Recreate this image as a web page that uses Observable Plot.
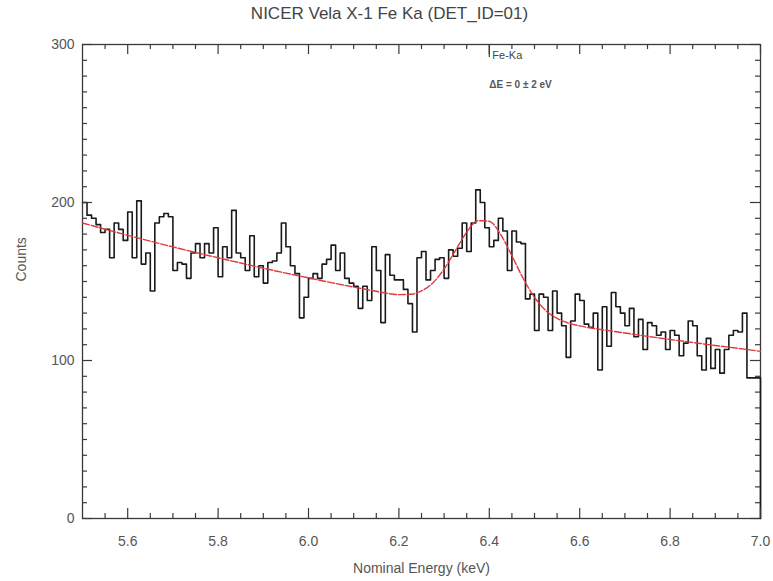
<!DOCTYPE html>
<html><head><meta charset="utf-8">
<script src="https://cdn.jsdelivr.net/npm/d3@7"></script>
<script src="https://cdn.jsdelivr.net/npm/@observablehq/plot@0.6"></script>
<style>body{margin:0;background:#fff}</style>
</head><body><div id="chart"></div>
<script>
// ---- data ----
const binStart = 5.5;
const binWidth = 0.01;
const counts = [
200,192,190,186,181,183,165,187,183,176,
194,165,201,161,168,144,187,191,193,191,
157,162,161,152,168,174,165,174,168,184,
153,172,165,195,168,165,157,179,153,160,
149,162,163,168,187,172,160,155,127,140,
152,155,152,161,164,173,157,168,152,149,
147,133,147,138,172,157,124,167,154,151,
151,145,136,118,165,169,151,157,164,165,
152,170,166,171,187,169,187,208,200,184,
172,176,190,182,157,182,175,174,139,142,
119,142,140,119,144,130,122,102,125,142,
138,123,121,130,94,134,109,143,134,130,
122,133,115,126,107,124,122,116,118,107,
119,116,103,111,125,122,103,94,114,95,
107,92,107,116,119,118,130,89,89,89
];
const endEnergy = 7.0;
const endCount = 0;

const fitEnergy = [5.50,5.55,5.60,5.65,5.70,5.75,5.80,5.85,5.90,5.95,6.00,6.05,6.10,6.15,6.20,6.225,6.25,6.275,6.30,6.325,6.35,6.375,6.40,6.425,6.45,6.475,6.50,6.525,6.55,6.575,6.60,6.65,6.70,6.75,6.80,6.85,6.90,6.95,7.00];
const fitCounts = [187.0,183.1,179.2,175.5,171.9,168.4,165.0,161.7,158.4,155.3,152.3,149.3,146.5,143.8,141.7,141.9,144.0,149.1,157.9,169.6,181.2,188.5,188.1,179.8,166.3,151.9,140.0,131.6,126.6,123.7,121.9,119.5,117.4,115.3,113.3,111.4,109.5,107.7,105.8];

const xMajorTicks = [5.6,5.8,6.0,6.2,6.4,6.6,6.8,7.0];
const xMinorTicks = [5.55,5.65,5.7,5.75,5.85,5.9,5.95,6.05,6.1,6.15,6.25,6.3,6.35,6.45,6.5,6.55,6.65,6.7,6.75,6.85,6.9,6.95];
const yMajorTicks = [0,100,200,300];
const yMinorTicks = [10,20,30,40,50,60,70,80,90,110,120,130,140,150,160,170,180,190,210,220,230,240,250,260,270,280,290];

const titleText = "NICER Vela X-1 Fe Ka (DET_ID=01)";
const xTitle = "Nominal Energy (keV)";
const yTitle = "Counts";
const lineEnergies = [6.4];
const lineNames = ["Fe-Ka"];
const shiftText = ["ΔE = 0 ± 2 eV"];

// ---- build ----
const hist = counts.map((c, i) => ({e: binStart + i * binWidth, c}));
hist.push({e: endEnergy, c: endCount});
const fit = fitEnergy.map((e, i) => ({e, c: fitCounts[i]}));

const W = 773, H = 581, mL = 82, mR = 13, mT = 44, mB = 63;
const iw = W - mL - mR, ih = H - mT - mB;
const major = 10, minor = 5;
const axisCol = "#3a3a3a", textCol = "#555";

const chart = Plot.plot({
  width: W, height: H,
  marginLeft: mL, marginRight: mR, marginTop: mT, marginBottom: mB,
  x: {domain: [5.5, 7.0], axis: null},
  y: {domain: [0, 300], axis: null},
  style: {fontFamily: "'Liberation Sans', 'DejaVu Sans', sans-serif", background: "#fff"},
  marks: [
    // frame
    Plot.frame({stroke: axisCol, strokeWidth: 1.3}),
    // histogram
    Plot.line(hist, {x: "e", y: "c", curve: "step-after", stroke: "#1a1a1a", strokeWidth: 1.6}),
    // fit
    Plot.line(fit, {x: "e", y: "c", curve: "monotone-x", stroke: "#e0383c", strokeWidth: 1.4, strokeDasharray: "7,2"}),
    // ticks bottom/top
    Plot.tickX(xMajorTicks, {x: d => d, insetTop: ih - major, stroke: axisCol, strokeWidth: 1.2}),
    Plot.tickX(xMinorTicks, {x: d => d, insetTop: ih - minor, stroke: axisCol, strokeWidth: 1.2}),
    Plot.tickX(xMajorTicks, {x: d => d, insetBottom: ih - major, stroke: axisCol, strokeWidth: 1.2}),
    Plot.tickX(xMinorTicks, {x: d => d, insetBottom: ih - minor, stroke: axisCol, strokeWidth: 1.2}),
    // ticks left/right
    Plot.tickY(yMajorTicks, {y: d => d, insetRight: iw - major, stroke: axisCol, strokeWidth: 1.2}),
    Plot.tickY(yMinorTicks, {y: d => d, insetRight: iw - minor, stroke: axisCol, strokeWidth: 1.2}),
    Plot.tickY(yMajorTicks, {y: d => d, insetLeft: iw - major, stroke: axisCol, strokeWidth: 1.2}),
    Plot.tickY(yMinorTicks, {y: d => d, insetLeft: iw - minor, stroke: axisCol, strokeWidth: 1.2}),
    // tick labels
    Plot.text(xMajorTicks, {x: d => d, frameAnchor: "bottom", dy: 27, text: d => d.toFixed(1), fontSize: 14, fill: textCol}),
    Plot.text(yMajorTicks, {y: d => d, frameAnchor: "left", dx: -8, textAnchor: "end", text: d => String(d), fontSize: 14, fill: textCol}),
    // titles
    Plot.text([titleText], {frameAnchor: "top", dx: -32, dy: -31, lineAnchor: "middle", text: d => d, fontSize: 17, fill: "#444"}),
    Plot.text([xTitle], {frameAnchor: "bottom", dy: 54, text: d => d, fontSize: 14, fill: textCol}),
    Plot.text([yTitle], {frameAnchor: "left", dx: -61, rotate: -90, text: d => d, fontSize: 14, fill: textCol}),
    // line marker
    Plot.tickX(lineEnergies, {x: d => d, insetBottom: ih - 13, stroke: axisCol, strokeWidth: 1.2}),
    Plot.text(lineNames, {x: lineEnergies[0], frameAnchor: "top", dx: 3, dy: 7, textAnchor: "start", text: d => d, fontSize: 11, fill: "#444"}),
    Plot.text(shiftText, {x: lineEnergies[0], frameAnchor: "top", dx: 0, dy: 36, textAnchor: "start", text: d => d, fontSize: 10, fontWeight: "bold", fill: "#555"})
  ]
});
document.getElementById("chart").appendChild(chart);
</script>
</body></html>
